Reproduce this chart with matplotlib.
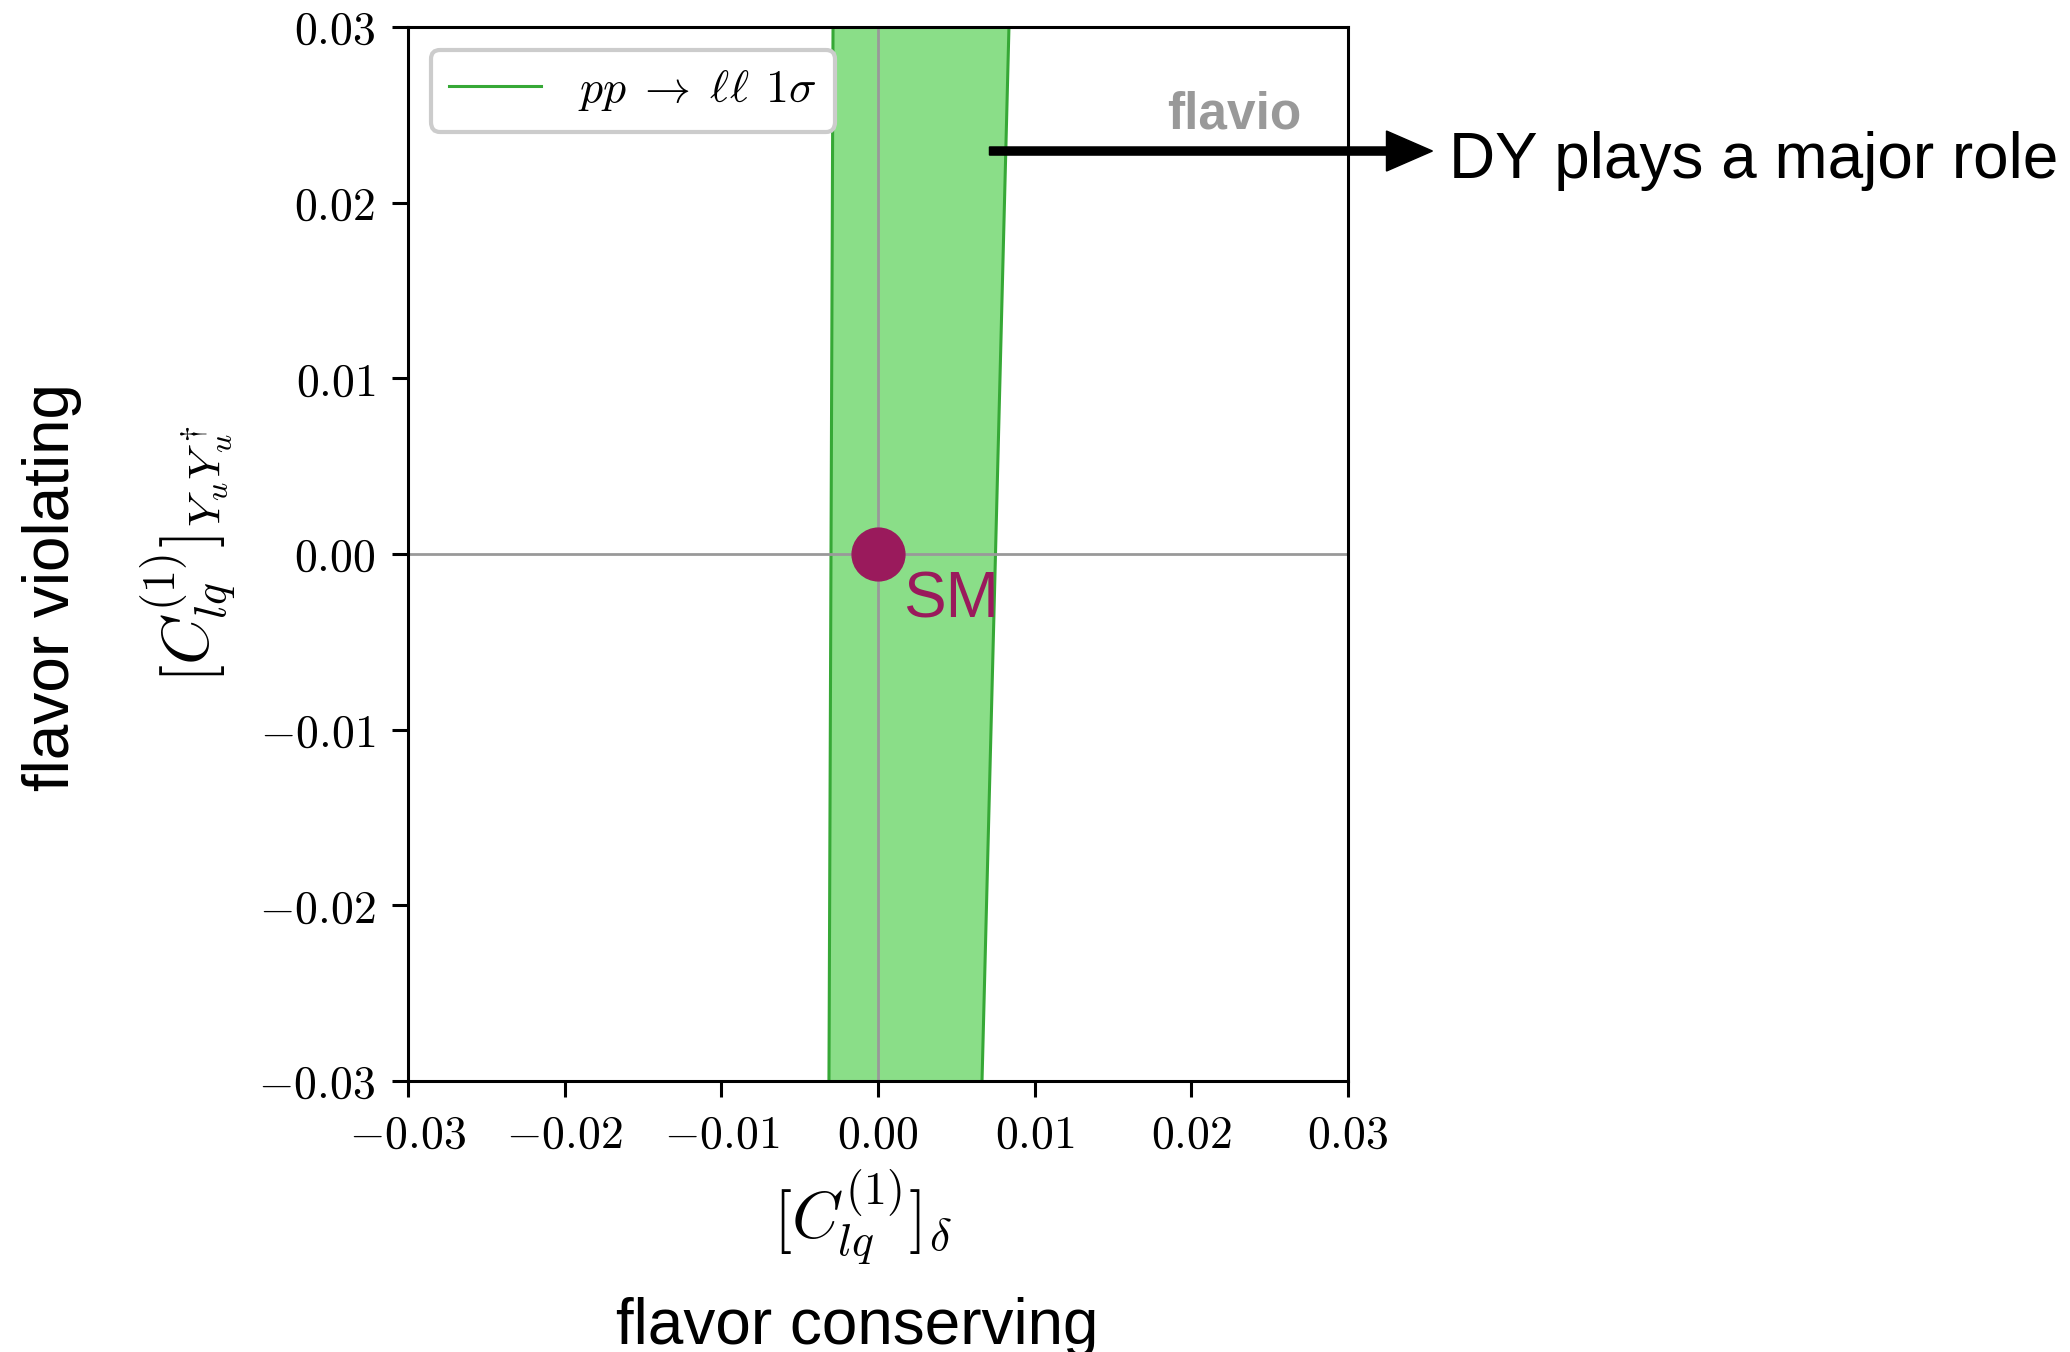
"""
DY constraint band in the flavor conserving / violating plane.
"""
import numpy as np
import matplotlib
matplotlib.use("Agg")
import matplotlib.pyplot as plt
from matplotlib.ticker import FuncFormatter

plt.rcParams['mathtext.fontset'] = 'cm'
plt.rcParams['font.family'] = ['Liberation Sans', 'DejaVu Sans']

# band of the pp -> ll 1 sigma region (edges read at y = -0.03 and y = 0.03)
band_y = [-0.03, 0.03]
band_left = [-0.00313, -0.00287]
band_right = [0.00664, 0.00836]

sm_point = (0.0, 0.0)
ticks = [-0.03, -0.02, -0.01, 0.00, 0.01, 0.02, 0.03]

green_fill = '#8ade88'
green_line = '#36a836'
sm_color = '#9a1a5c'

DPI = 100
fig = plt.figure(figsize=[20.7, 13.52], dpi=DPI)
axes = fig.add_axes([0.1971, 0.2004, 0.4541, 0.7796])

#zero lines
axes.axhline(0, color='#999999', linewidth=2, zorder=2)
axes.axvline(0, color='#999999', linewidth=2, zorder=2)

#the band
axes.fill_betweenx(band_y, band_left, band_right, color=green_fill, linewidth=0, zorder=1)
axes.plot(band_left, band_y, color=green_line, linewidth=2.2, zorder=1.5,
          label=r'$pp\;\to\;\ell\ell\;\,1\sigma$')
axes.plot(band_right, band_y, color=green_line, linewidth=2.2, zorder=1.5)

#SM point
axes.plot([sm_point[0]], [sm_point[1]], marker='o', markersize=38, color=sm_color,
          linestyle='none', zorder=4, clip_on=False)
axes.text(sm_point[0] + 0.0016, sm_point[1] - 0.00364, 'SM', color=sm_color,
          fontsize=46, ha='left', va='baseline', zorder=5)

axes.set_xlim(-0.03, 0.03)
axes.set_ylim(-0.03, 0.03)
axes.set_xticks(ticks)
axes.set_yticks(ticks)
fmt = FuncFormatter(lambda v, p: r'$%.2f$' % (0.0 if abs(v) < 1e-12 else v))
axes.xaxis.set_major_formatter(fmt)
axes.yaxis.set_major_formatter(fmt)
axes.tick_params(labelsize=33, length=11.5, width=2.2, pad=12, direction='out')
for s in axes.spines.values():
    s.set_linewidth(2.2)

axes.set_xlabel(r'$[C_{lq}^{(1)}]_\delta$', fontsize=47, labelpad=14)
axes.set_ylabel(r'$[C_{lq}^{(1)}]_{Y_u Y_u^\dagger}$', fontsize=47, labelpad=14)
axes.xaxis.set_label_coords(0.484, -0.082)

#flavio watermark
axes.text(0.95, 0.94, 'flavio', transform=axes.transAxes, ha='right', va='top',
          fontsize=37, fontweight='bold', color='#999999', zorder=6)

leg = axes.legend(loc='upper left', fontsize=33, fancybox=True, framealpha=1,
                  borderaxespad=0.5)
leg.get_frame().set_edgecolor('#cccccc')
leg.get_frame().set_linewidth(3)
for line in leg.get_lines():
    line.set_linewidth(2.2)

#annotations outside the axes
fig.text(0.025, 0.566, 'flavor violating', rotation=90, fontsize=46,
         ha='center', va='center')
fig.text(0.414, 0.006, 'flavor conserving', fontsize=46, ha='center', va='baseline')
fig.text(0.700, 0.868, 'DY plays a major role', fontsize=46, ha='left', va='baseline')
fig.patches.append(matplotlib.patches.FancyArrow(
    0.478, 0.8883, 0.214, 0, width=0.006, head_width=0.0296, head_length=0.0222,
    length_includes_head=True, color='black', transform=fig.transFigure, figure=fig))

plt.savefig('out.png', dpi=DPI)
plt.close()
